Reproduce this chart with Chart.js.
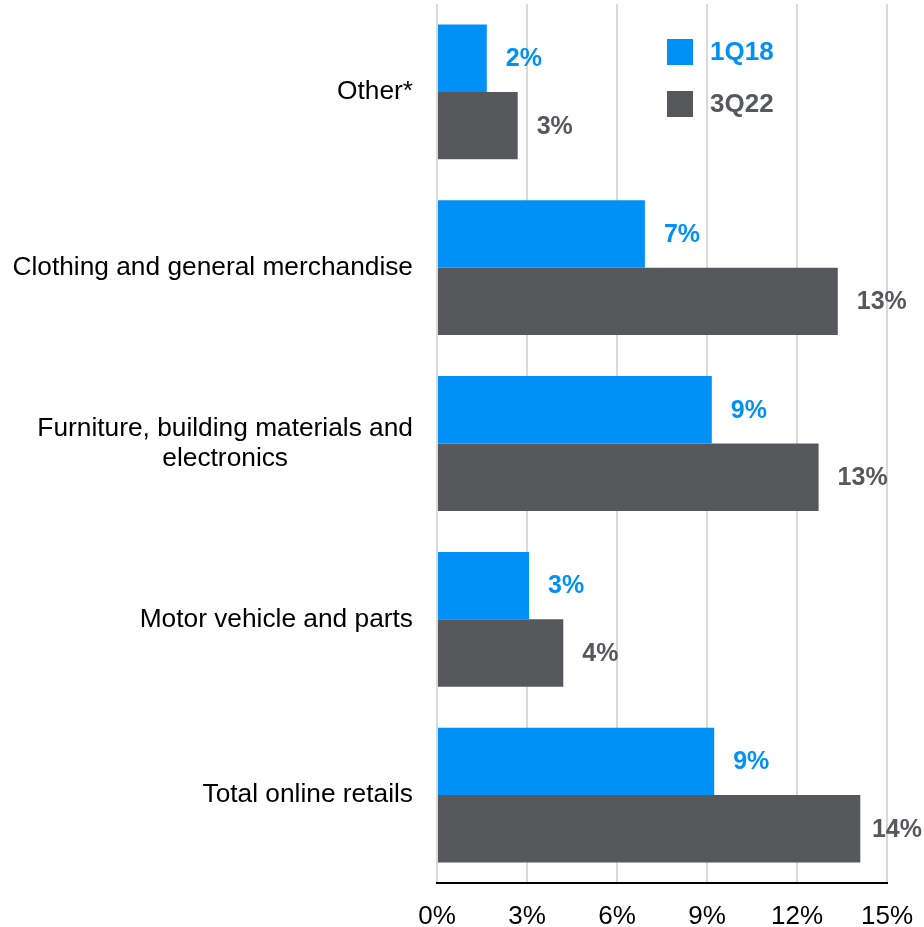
<!DOCTYPE html>
<html>
<head>
<meta charset="utf-8">
<script src="https://cdn.jsdelivr.net/npm/chart.js@4/dist/chart.umd.min.js"></script>
<style>
  html, body { margin: 0; padding: 0; background: #fff; }
  #wrap { width: 924px; height: 927px; }
</style>
</head>
<body>
<div id="wrap"><canvas id="chart"></canvas></div>
<script>
// online share of retail sales by category
const categories = [
  ['Other*'],
  ['Clothing and general merchandise'],
  ['Furniture, building materials and', 'electronics'],
  ['Motor vehicle and parts'],
  ['Total online retails']
];
const share1Q18 = [1.66, 6.93, 9.16, 3.07, 9.24];
const share3Q22 = [2.69, 13.36, 12.72, 4.21, 14.11];
const xTicks = [0, 3, 6, 9, 12, 15];

const BLUE = '#0091f7';
const GREY = '#56595c';
const FONT = "Arial, 'Liberation Sans', sans-serif";

// category names drawn right-aligned as a block, lines centred within it
const categoryLabels = {
  id: 'categoryLabels',
  afterDraw(chart) {
    const { ctx, chartArea, scales: { y } } = chart;
    ctx.save();
    ctx.font = '26.3px ' + FONT;
    ctx.fillStyle = '#000';
    ctx.textAlign = 'center';
    ctx.textBaseline = 'middle';
    const right = chartArea.left - 24;
    const lineH = 30;
    categories.forEach((lines, i) => {
      const widest = Math.max(...lines.map(l => ctx.measureText(l).width));
      const cx = right - widest / 2;
      const cy = y.getPixelForValue(i);
      lines.forEach((l, k) => {
        ctx.fillText(l, cx, cy + (k - (lines.length - 1) / 2) * lineH);
      });
    });
    ctx.restore();
  }
};

// value labels just past the end of each bar, kept inside the canvas
const valueLabels = {
  id: 'valueLabels',
  afterDatasetsDraw(chart) {
    const { ctx } = chart;
    ctx.save();
    ctx.font = 'bold 25px ' + FONT;
    ctx.textAlign = 'left';
    ctx.textBaseline = 'middle';
    chart.data.datasets.forEach((ds, di) => {
      chart.getDatasetMeta(di).data.forEach((bar, i) => {
        const text = Math.round(ds.data[i]) + '%';
        const w = ctx.measureText(text).width;
        const x = Math.min(bar.x + 19, chart.width - w - 2);
        ctx.fillStyle = ds.backgroundColor;
        ctx.fillText(text, x, bar.y + 1);
      });
    });
    ctx.restore();
  }
};

// legend boxes inside the plot area, top right
const insideLegend = {
  id: 'insideLegend',
  afterDraw(chart) {
    const { ctx, chartArea } = chart;
    ctx.save();
    ctx.font = 'bold 26px ' + FONT;
    ctx.textAlign = 'left';
    ctx.textBaseline = 'middle';
    chart.data.datasets.forEach((ds, i) => {
      const x = chartArea.left + 230;
      const y = chartArea.top + 35 + i * 52;
      ctx.fillStyle = ds.backgroundColor;
      ctx.fillRect(x, y, 26, 26);
      ctx.fillText(ds.label, x + 43, y + 14);
    });
    ctx.restore();
  }
};

new Chart(document.getElementById('chart'), {
  type: 'bar',
  data: {
    labels: categories,
    datasets: [
      { label: '1Q18', data: share1Q18, backgroundColor: BLUE },
      { label: '3Q22', data: share3Q22, backgroundColor: GREY }
    ]
  },
  options: {
    indexAxis: 'y',
    responsive: true,
    maintainAspectRatio: false,
    animation: false,
    layout: { padding: { top: 4, right: 37, bottom: 0, left: 0 } },
    datasets: {
      bar: { categoryPercentage: 0.767, barPercentage: 1.0, borderWidth: 0 }
    },
    plugins: {
      legend: { display: false },
      tooltip: { enabled: false }
    },
    scales: {
      x: {
        min: 0,
        max: 15,
        afterBuildTicks: scale => { scale.ticks = xTicks.map(v => ({ value: v })); },
        afterFit: scale => {
          scale.height = 44;
          scale.paddingLeft = 0;
          scale.paddingRight = 0;
        },
        grid: { color: '#d9d9d9', lineWidth: 2, drawTicks: false },
        border: { display: true, color: '#000', width: 2 },
        ticks: {
          color: '#000',
          padding: 18,
          font: { family: FONT, size: 26 },
          callback: v => v + '%'
        }
      },
      y: {
        grid: { display: false },
        border: { display: false },
        ticks: { display: false },
        afterFit: scale => { scale.width = 437; }
      }
    }
  },
  plugins: [categoryLabels, valueLabels, insideLegend]
});
</script>
</body>
</html>
